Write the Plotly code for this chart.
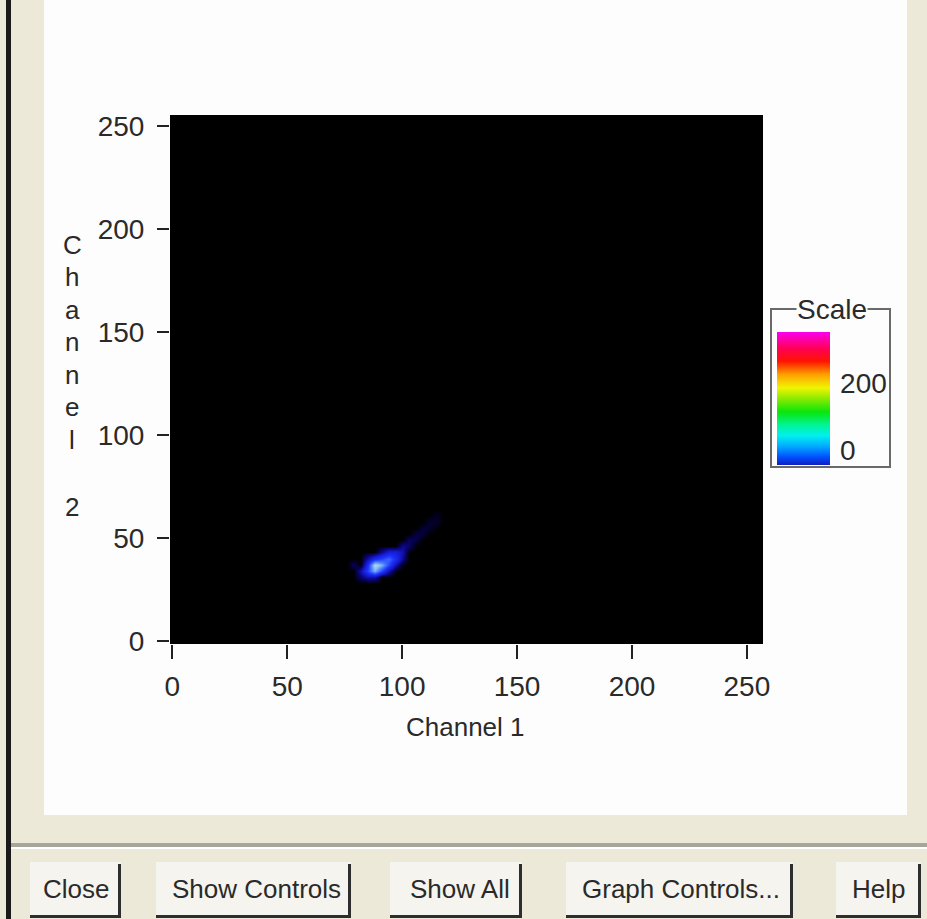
import plotly.graph_objects as go

# ---------------- data ----------------
x_ticks = [0, 50, 100, 150, 200, 250]
y_ticks = [0, 50, 100, 150, 200, 250]
scale_ticks = [0, 200]
scale_min, scale_max = -45, 352

# histogram bin centres of the populated region (coarse bins, 3 channels wide)
grid_x = [73 + 3 * k for k in range(17)]
grid_y = [25 + 3 * k for k in range(15)]

# non-empty bins: Channel 1, Channel 2, relative count
blob_x = [88, 91, 88, 91, 85, 85, 88, 91, 94, 94, 94, 97, 97, 94, 100, 100, 100, 103,
          103, 106, 106, 109, 109, 112, 112, 115, 115, 82, 82, 85, 88, 79, 85, 91, 97]
blob_y = [37, 37, 34, 34, 34, 37, 40, 40, 40, 37, 34, 40, 43, 43, 43, 40, 46, 46,
          49, 49, 52, 52, 55, 55, 58, 58, 61, 34, 31, 31, 31, 37, 40, 43, 37]
blob_count = [10, 8, 8, 5, 5, 4, 4, 5, 6, 5, 2, 4, 3, 3, 2, 1.5, 1.5, 1.0,
              0.8, 0.6, 0.5, 0.45, 0.4, 0.35, 0.35, 0.3, 0.25, 2, 1, 2, 2, 0.8, 2, 1.5, 2]

buttons = ["Close", "Show Controls", "Show All", "Graph Controls...", "Help"]
y_title_letters = ["C", "h", "a", "n", "n", "e", "l", "2"]

# ---------------- layout helpers (pixel -> paper) ----------------
W_FIG, H_FIG = 927, 919
L, R, T, B = 170, 763, 115, 644
PW, PH = R - L, B - T


def px(xp):
    return (xp - L) / PW


def py(yp):
    return (B - yp) / PH


FONT = "Liberation Sans, Arial, sans-serif"
TXT = "#2a2a2a"
BEIGE = "#ECE9D8"

# dense grid built from the sparse bins
Z = [[0.0 for _ in grid_x] for _ in grid_y]
for xv, yv, cv in zip(blob_x, blob_y, blob_count):
    Z[grid_y.index(yv)][grid_x.index(xv)] = cv

blob_cs = [
    [0.0, "rgb(0,0,0)"],
    [0.04, "rgb(5,0,55)"],
    [0.12, "rgb(10,5,120)"],
    [0.25, "rgb(20,25,200)"],
    [0.45, "rgb(30,50,255)"],
    [0.65, "rgb(70,120,250)"],
    [0.85, "rgb(140,190,245)"],
    [1.0, "rgb(175,215,250)"],
]

rainbow = [
    [0.0, "rgb(20,30,190)"],
    [0.06, "rgb(0,80,255)"],
    [0.14, "rgb(0,170,255)"],
    [0.22, "rgb(0,240,240)"],
    [0.30, "rgb(0,245,150)"],
    [0.40, "rgb(10,230,10)"],
    [0.50, "rgb(140,235,0)"],
    [0.58, "rgb(240,245,0)"],
    [0.68, "rgb(255,160,0)"],
    [0.78, "rgb(255,20,0)"],
    [0.88, "rgb(255,0,90)"],
    [1.0, "rgb(250,0,240)"],
]

fig = go.Figure()

fig.add_trace(go.Heatmap(
    x=grid_x, y=grid_y, z=Z, colorscale=blob_cs, zmin=0, zmax=10,
    zsmooth="best", showscale=False, hoverinfo="skip",
))

# colour scale legend
fig.add_trace(go.Scatter(
    x=[x_ticks[0], x_ticks[0]], y=[y_ticks[0], y_ticks[0]], mode="markers",
    hoverinfo="skip", showlegend=False,
    marker=dict(
        size=1, opacity=0, color=[scale_min, scale_max], colorscale=rainbow,
        cmin=scale_min, cmax=scale_max, showscale=True,
        colorbar=dict(
            thickness=53, thicknessmode="pixels", len=133, lenmode="pixels",
            x=px(777), xanchor="left", y=py(332), yanchor="top",
            xpad=0, ypad=0, outlinewidth=0,
            tickvals=scale_ticks, ticktext=[str(v) for v in scale_ticks],
            ticks="outside", ticklen=5, tickcolor="rgba(0,0,0,0)",
            tickfont=dict(family=FONT, size=28, color=TXT),
        ),
    ),
))

shapes = []
# white panel
shapes.append(dict(type="rect", xref="paper", yref="paper", layer="below",
                   x0=px(44), x1=px(907), y0=py(0), y1=py(815),
                   fillcolor="#FDFDFD", line=dict(width=0)))
# plot area (black)
shapes.append(dict(type="rect", xref="paper", yref="paper", layer="below",
                   x0=0, x1=1, y0=0, y1=1, fillcolor="black", line=dict(width=0)))
# left window border
shapes.append(dict(type="rect", xref="paper", yref="paper", layer="below",
                   x0=px(6), x1=px(11), y0=py(0), y1=py(919),
                   fillcolor="#1a1a1a", line=dict(width=0)))
# separator
shapes.append(dict(type="rect", xref="paper", yref="paper", layer="below",
                   x0=px(11), x1=px(927), y0=py(843), y1=py(847),
                   fillcolor="#A7A69C", line=dict(width=0)))
shapes.append(dict(type="rect", xref="paper", yref="paper", layer="below",
                   x0=px(11), x1=px(927), y0=py(847), y1=py(849),
                   fillcolor="#FFFFFF", line=dict(width=0)))
# scale group box (etched)
shapes.append(dict(type="rect", xref="paper", yref="paper", layer="below",
                   x0=px(771), x1=px(890), y0=py(309), y1=py(467),
                   fillcolor="rgba(0,0,0,0)", line=dict(color="#6a6a6a", width=2)))

# buttons
btn_box = [(30, 121), (156, 351), (390, 522), (566, 793), (836, 921)]
btn_txt = [76, 256, 460, 681, 879]
for (bx0, bx1) in btn_box:
    shapes.append(dict(type="rect", xref="paper", yref="paper", layer="below",
                       x0=px(bx0), x1=px(bx1), y0=py(915), y1=py(862),
                       fillcolor="#F5F4EE", line=dict(width=0)))
    shapes.append(dict(type="line", xref="paper", yref="paper", layer="below",
                       x0=px(bx1 - 1.5), x1=px(bx1 - 1.5), y0=py(864), y1=py(918),
                       line=dict(color="#2e2e2e", width=3)))
    shapes.append(dict(type="line", xref="paper", yref="paper", layer="below",
                       x0=px(bx0), x1=px(bx1), y0=py(916.5), y1=py(916.5),
                       line=dict(color="#2e2e2e", width=3)))

annotations = []
for name, cx in zip(buttons, btn_txt):
    annotations.append(dict(text=name, xref="paper", yref="paper", x=px(cx), y=py(889),
                            xanchor="center", yanchor="middle", showarrow=False,
                            font=dict(family=FONT, size=26, color=TXT)))

letter_y = [245, 277, 310, 342, 375, 407, 440, 507]
for ch, ly in zip(y_title_letters, letter_y):
    annotations.append(dict(text=ch, xref="paper", yref="paper", x=px(72), y=py(ly),
                            xanchor="center", yanchor="middle", showarrow=False,
                            font=dict(family=FONT, size=26, color=TXT)))

annotations.append(dict(text="Channel 1", xref="paper", yref="paper", x=px(465), y=py(727),
                        xanchor="center", yanchor="middle", showarrow=False,
                        font=dict(family=FONT, size=26, color=TXT)))
annotations.append(dict(text="Scale", xref="paper", yref="paper", x=px(832), y=py(309),
                        xanchor="center", yanchor="middle", showarrow=False,
                        bgcolor="#FDFDFD", borderpad=0,
                        font=dict(family=FONT, size=28, color=TXT)))

fig.update_layout(
    width=W_FIG, height=H_FIG,
    margin=dict(l=L, r=W_FIG - R, t=T, b=H_FIG - B, pad=0),
    paper_bgcolor=BEIGE, plot_bgcolor="black",
    showlegend=False,
    shapes=shapes, annotations=annotations,
    xaxis=dict(range=[-1, 257], tickvals=x_ticks, ticks="outside", ticklen=14,
               tickwidth=2, tickcolor="#222", showgrid=False, zeroline=False,
               showline=False, ticklabelstandoff=3,
               tickfont=dict(family=FONT, size=28, color=TXT)),
    yaxis=dict(range=[-1.5, 255.5], tickvals=y_ticks, ticks="outside", ticklen=12,
               tickwidth=2, tickcolor="#222", showgrid=False, zeroline=False,
               showline=False, ticklabelstandoff=7,
               tickfont=dict(family=FONT, size=28, color=TXT)),
)

fig.write_html(
    "out.html",
    config={"displayModeBar": False},
    post_script="document.body.style.margin='0';document.body.style.overflow='hidden';",
)
